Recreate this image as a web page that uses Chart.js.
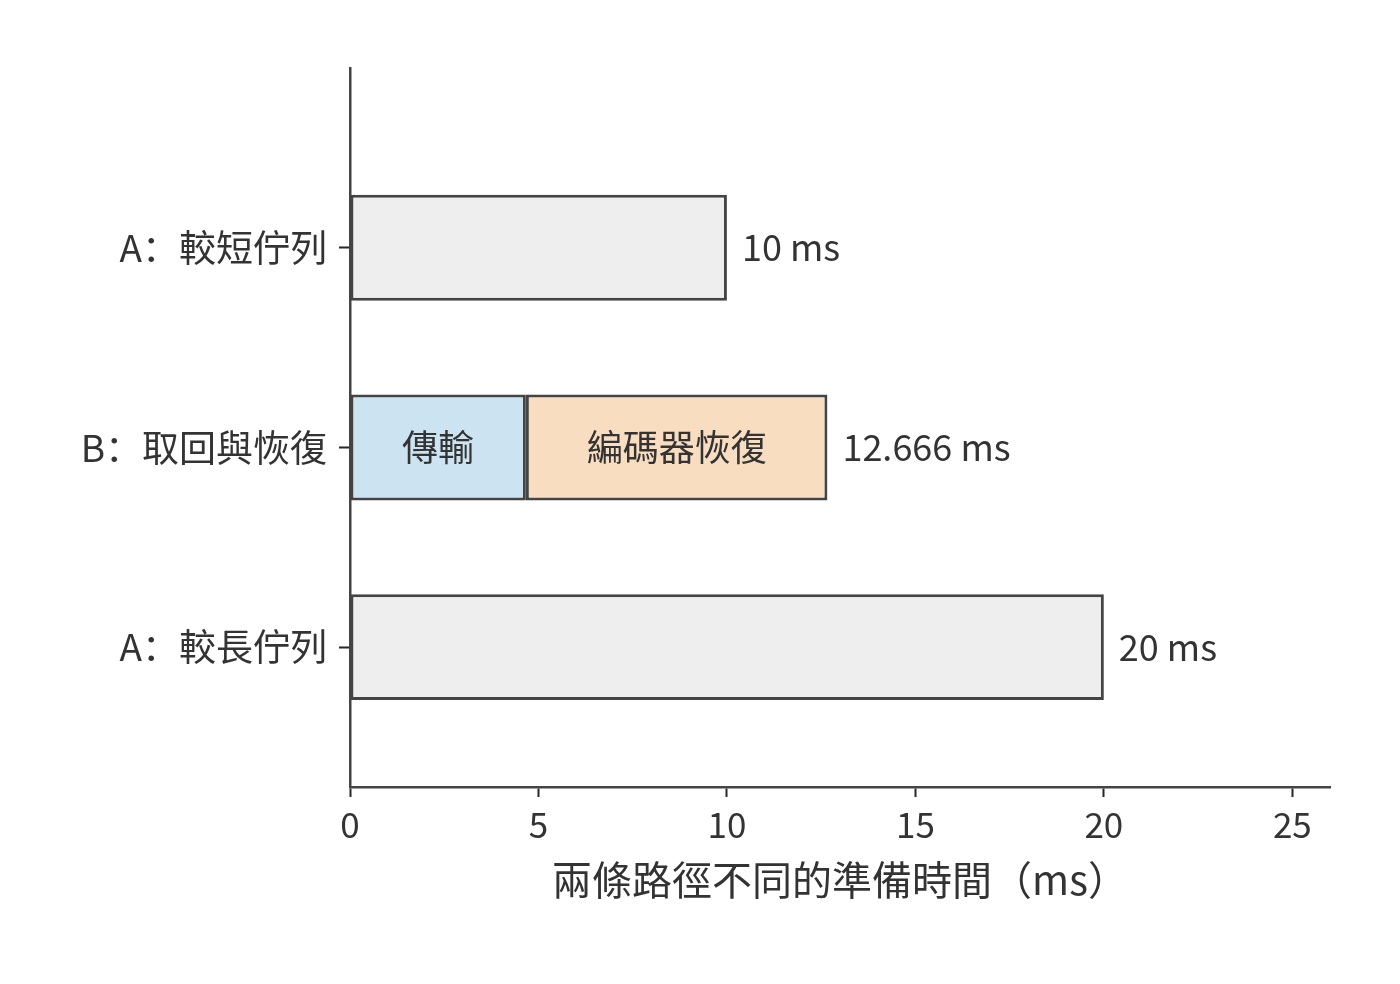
<!DOCTYPE html>
<html>
<head>
<meta charset="utf-8">
<script src="https://cdn.jsdelivr.net/npm/chart.js@4"></script>
<style>
html,body{margin:0;padding:0;background:#fff;}
#wrap{width:1400px;height:984px;}
</style>
</head>
<body>
<div id="wrap"><canvas id="c" width="1400" height="984"></canvas></div>
<script>
// ---- data ----
const rowLabels = ['A：較長佇列', 'B：取回與恢復', 'A：較短佇列']; // y = 0,1,2
const rowPositions = [0, 1, 2];
const segmentRows = [2, 1, 1, 0];
const segmentStarts = [0, 0, 4.666, 0];
const segmentEnds = [10, 4.666, 12.666, 20];
const segmentInnerText = ['', '傳輸', '編碼器恢復', ''];
const totalRows = [2, 1, 0];
const totalValues = [10, 12.666, 20];
const totalText = ['10 ms', '12.666 ms', '20 ms'];
const xTicks = [0, 5, 10, 15, 20, 25];
const xTitle = '兩條路徑不同的準備時間（ms）';

const FONT = '"Noto Sans CJK SC", "Noto Sans CJK TC", "Noto Sans", sans-serif';
const TXT = '#333333';
const EDGE = '#444444';
const TICK = '#262626';
const fills = ['#eeeeee', '#cce3f2', '#f8ddc0', '#eeeeee'];

const labelPlugin = {
  id: 'labels',
  afterDatasetsDraw(chart) {
    const ctx = chart.ctx;
    const xs = chart.scales.x, ys = chart.scales.y;
    ctx.save();
    ctx.fillStyle = TXT;
    ctx.textBaseline = 'middle';
    ctx.font = '36px ' + FONT;
    ctx.textAlign = 'center';
    segmentInnerText.forEach((t, i) => {
      if (!t) return;
      const cx = (xs.getPixelForValue(segmentStarts[i]) + xs.getPixelForValue(segmentEnds[i])) / 2;
      ctx.fillText(t, cx, ys.getPixelForValue(segmentRows[i]));
    });
    ctx.textAlign = 'left';
    totalText.forEach((t, i) => {
      ctx.fillText(t, xs.getPixelForValue(totalValues[i]) + 15, ys.getPixelForValue(totalRows[i]));
    });
    ctx.restore();
  }
};

new Chart(document.getElementById('c'), {
  type: 'bar',
  data: {
    datasets: [{
      data: segmentRows.map((r, i) => ({ y: r, x: [segmentStarts[i], segmentEnds[i]] })),
      backgroundColor: fills,
      borderColor: EDGE,
      borderWidth: 3,
      borderSkipped: false,
      barPercentage: 0.53,
      categoryPercentage: 1.0
    }]
  },
  options: {
    indexAxis: 'y',
    responsive: false,
    animation: false,
    devicePixelRatio: 1,
    layout: { padding: { left: 0, top: 68, right: 70, bottom: 80 } },
    plugins: { legend: { display: false }, tooltip: { enabled: false } },
    scales: {
      x: {
        type: 'linear',
        min: 0,
        max: 26,
        afterBuildTicks: s => { s.ticks = xTicks.map(v => ({ value: v })); },
        afterFit: s => { s.height = 117; },
        border: { display: true, color: EDGE, width: 2.5 },
        grid: { display: true, drawOnChartArea: false, drawTicks: true, tickLength: 10, tickWidth: 2, tickColor: TICK },
        ticks: { color: TXT, font: { family: FONT, size: 35 }, padding: 7, maxRotation: 0 },
        title: { display: true, text: xTitle, color: TXT, font: { family: FONT, size: 40 }, padding: { top: 0, bottom: 0 } }
      },
      y: {
        type: 'linear',
        offset: false,
        min: -0.7,
        max: 2.9,
        afterBuildTicks: s => { s.ticks = rowPositions.map(v => ({ value: v })); },
        afterFit: s => { s.width = 350; },
        border: { display: true, color: EDGE, width: 2.5 },
        grid: { display: true, offset: false, drawOnChartArea: false, drawTicks: true, tickLength: 11, tickWidth: 2, tickColor: TICK },
        ticks: {
          color: TXT, font: { family: FONT, size: 37 }, padding: 12,
          callback: v => rowLabels[rowPositions.indexOf(v)] ?? ''
        }
      }
    }
  },
  plugins: [labelPlugin]
});
</script>
</body>
</html>
